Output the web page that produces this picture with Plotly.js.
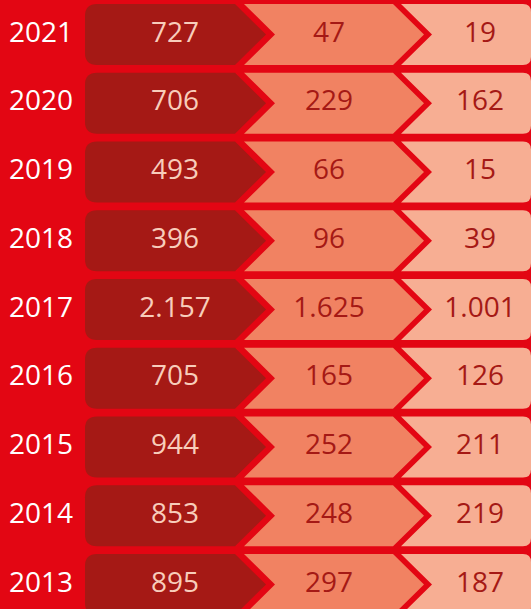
<!DOCTYPE html>
<html>
<head>
<meta charset="utf-8">
<script src="https://cdn.plot.ly/plotly-3.0.1.min.js"></script>
<style>html,body{margin:0;padding:0;background:#E30613;}#chart{width:531px;height:609px;}</style>
</head>
<body>
<div id="chart"></div>
<script>
// ---- data ----
const years = ["2021","2020","2019","2018","2017","2016","2015","2014","2013"];
const stage1 = [727, 706, 493, 396, 2157, 705, 944, 853, 895];
const stage2 = [47, 229, 66, 96, 1625, 165, 252, 248, 297];
const stage3 = [19, 162, 15, 39, 1001, 126, 211, 219, 187];

// ---- styles ----
const BG = "#E30613";
const C1 = "#A51915";
const C2 = "#F18262";
const C3 = "#F7AE93";
const T1 = "#F8CDBB";
const T2 = "#A51915";
const FONT = "Open Sans, Noto Sans, sans-serif";

function fmt(v){ return String(v).replace(/\B(?=(\d{3})+(?!\d))/g, "."); }

const rowIdx = years.map((_, i) => i);
const H = 0.444;      // half row height in row units
const ky = 68.75;     // px per row unit (for corner radius conversion)
const r = 12, ry = r / ky;
const rr = 8, rry = rr / ky;
const X0 = 85, D1 = 235, T1x = 266, M0 = 244, M1 = 393, T2x = 424, R0 = 401, R1 = 531;

const shapes = [];
rowIdx.forEach(i => {
  const t = i - H, b = i + H, c = i;
  shapes.push({type:"path", layer:"below", xref:"x", yref:"y", fillcolor:C1, line:{width:0},
    path:`M ${X0+r},${t} L ${D1},${t} L ${T1x},${c} L ${D1},${b} L ${X0+r},${b} Q ${X0},${b} ${X0},${b-ry} L ${X0},${t+ry} Q ${X0},${t} ${X0+r},${t} Z`});
  shapes.push({type:"path", layer:"below", xref:"x", yref:"y", fillcolor:C2, line:{width:0},
    path:`M ${M0},${t} L ${M1},${t} L ${T2x},${c} L ${M1},${b} L ${M0},${b} L ${M0+(T1x-D1)},${c} Z`});
  shapes.push({type:"path", layer:"below", xref:"x", yref:"y", fillcolor:C3, line:{width:0},
    path:`M ${R0},${t} L ${R1-rr},${t} Q ${R1},${t} ${R1},${t+rry} L ${R1},${b-rry} Q ${R1},${b} ${R1-rr},${b} L ${R0},${b} L ${R0+(T2x-M1)},${c} Z`});
});

function textTrace(xpos, labels, color){
  return {type:"scatter", mode:"text", x:rowIdx.map(()=>xpos), y:rowIdx, text:labels,
    textposition:"middle center", hoverinfo:"skip", showlegend:false, cliponaxis:false,
    textfont:{family:FONT, size:28, color:color}};
}

const data = [
  textTrace(41, years, "#FFFFFF"),
  textTrace(175, stage1.map(fmt), T1),
  textTrace(329, stage2.map(fmt), T2),
  textTrace(480, stage3.map(fmt), T2)
];

const y0 = -34.5/ky, y1 = (609-34.5)/ky;
const layout = {
  width:531, height:609, margin:{l:0,r:0,t:0,b:0,pad:0},
  paper_bgcolor:BG, plot_bgcolor:BG,
  xaxis:{range:[0,531], visible:false, fixedrange:true},
  yaxis:{range:[y1, y0], visible:false, fixedrange:true},
  shapes:shapes, showlegend:false
};
Plotly.newPlot("chart", data, layout, {staticPlot:true, displayModeBar:false});
</script>
</body>
</html>
